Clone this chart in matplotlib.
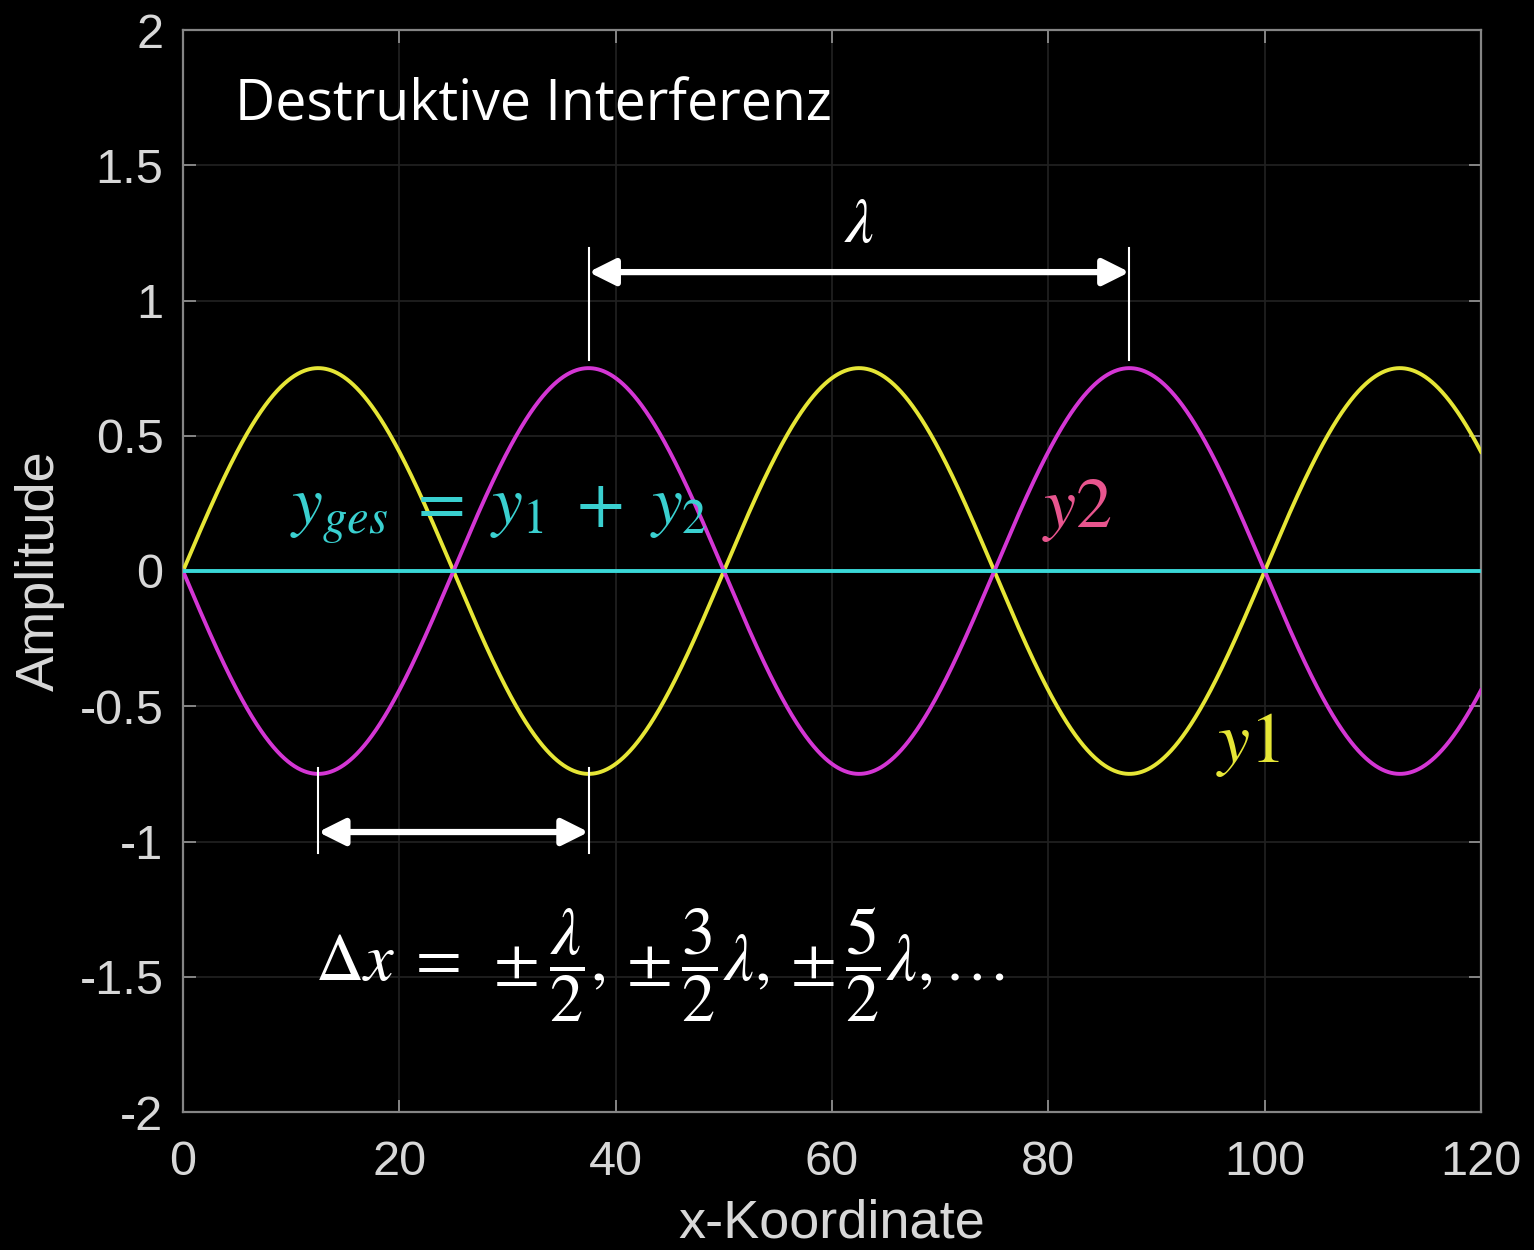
import numpy as np
import matplotlib
matplotlib.use("Agg")
import matplotlib.pyplot as plt

# Wave parameters
amplitude = 0.75
wavelength = 50.0
x_range = (0, 120)
y_range = (-2, 2)

x_ticks = [0, 20, 40, 60, 80, 100, 120]
x_tick_labels = ["0", "20", "40", "60", "80", "100", "120"]
y_ticks = [-2, -1.5, -1, -0.5, 0, 0.5, 1, 1.5, 2]
y_tick_labels = ["-2", "-1.5", "-1", "-0.5", "0", "0.5", "1", "1.5", "2"]

# Marker positions for the wavelength / path difference annotations
lambda_span = (37.5, 87.5)
half_span = (12.5, 37.5)

x = np.linspace(x_range[0], x_range[1], 2401)
y1 = amplitude * np.sin(2 * np.pi * x / wavelength)
y2 = amplitude * np.sin(2 * np.pi * x / wavelength + np.pi)
y_ges = y1 + y2

plt.rcParams["mathtext.fontset"] = "stix"
plt.rcParams["font.family"] = ["Liberation Sans", "DejaVu Sans"]

fig = plt.figure(figsize=(15.34, 12.5), dpi=100, facecolor="black")
ax = fig.add_axes([183 / 1534, 1 - 1112 / 1250, 1298 / 1534, 1082 / 1250])
ax.set_facecolor("black")

ax.plot(x, y1, color="#e6e636", lw=2.8, zorder=3)
ax.plot(x, y2, color="#d436d4", lw=2.8, zorder=3)
ax.plot(x, y_ges, color="#3ad8d8", lw=2.8, zorder=4)

ax.set_xlim(*x_range)
ax.set_ylim(*y_range)
ax.set_xticks(x_ticks)
ax.set_xticklabels(x_tick_labels)
ax.set_yticks(y_ticks)
ax.set_yticklabels(y_tick_labels)
ax.grid(True, color="#222222", lw=1.2)
ax.set_axisbelow(True)
for s in ax.spines.values():
    s.set_color("#858585")
    s.set_linewidth(1.6)
ax.tick_params(which="both", direction="in", length=9, width=1.4, color="#858585",
               top=True, right=True, labelsize=35, labelcolor="#d8d8d8")
ax.tick_params(axis="x", pad=20)
ax.tick_params(axis="y", pad=14)

fig.text(40 / 1534, 1 - 571 / 1250, "Amplitude", rotation=90, color="#d8d8d8",
         fontsize=39, ha="center", va="center")
fig.text(832 / 1534, 1 - 1224 / 1250, "x-Koordinate", color="#d8d8d8",
         fontsize=39, ha="center", va="center")

ax.text(4.8, 1.72, "Destruktive Interferenz", color="white", fontsize=40,
        family=["Open Sans", "DejaVu Sans"], ha="left", va="center")

# wavelength marker
for xv in lambda_span:
    ax.plot([xv, xv], [0.78, 1.194], color="white", lw=1.5, zorder=5)
ax.annotate("", xy=(lambda_span[1], 1.105), xytext=(lambda_span[0], 1.105),
            arrowprops=dict(arrowstyle="<|-|>", color="white", lw=4.5,
                            mutation_scale=40, shrinkA=0, shrinkB=0), zorder=5)
ax.text(sum(lambda_span) / 2, 1.28, r"$\lambda$", color="white", fontsize=46,
        ha="center", va="center")

# half-wavelength marker
for xv in half_span:
    ax.plot([xv, xv], [-0.728, -1.043], color="white", lw=1.5, zorder=5)
ax.annotate("", xy=(half_span[1], -0.965), xytext=(half_span[0], -0.965),
            arrowprops=dict(arrowstyle="<|-|>", color="white", lw=4.5,
                            mutation_scale=40, shrinkA=0, shrinkB=0), zorder=5)

ax.text(44.1, -1.456,
        r"$\Delta x\;=\;\pm\dfrac{\lambda}{2},\pm\dfrac{3}{2}\lambda,\pm\dfrac{5}{2}\lambda,\ldots$",
        color="white", fontsize=48, ha="center", va="center")

ax.text(29.2, 0.21, r"$y_{ges}\ =\ y_1\ +\ y_2$", color="#3ad0d0", fontsize=50,
        ha="center", va="center", zorder=6)
ax.text(82.7, 0.225, r"$y2$", color="#e8558e", fontsize=52,
        ha="center", va="center", zorder=6)
ax.text(98.5, -0.643, r"$y1$", color="#e6e636", fontsize=52,
        ha="center", va="center", zorder=6)

fig.savefig("out.png", dpi=100, facecolor="black")
